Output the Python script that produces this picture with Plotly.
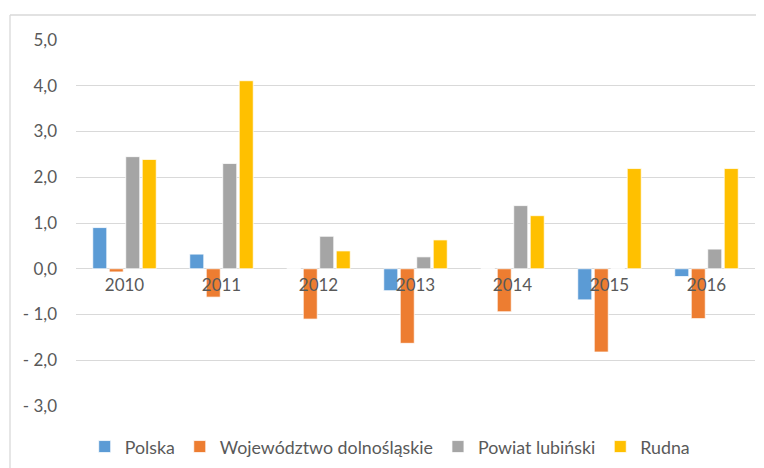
import plotly.graph_objects as go

years = ["2010", "2011", "2012", "2013", "2014", "2015", "2016"]
polska = [0.90, 0.32, 0.0, -0.48, 0.0, -0.68, -0.17]
dolnoslaskie = [-0.07, -0.62, -1.10, -1.63, -0.94, -1.82, -1.09]
lubinski = [2.45, 2.30, 0.71, 0.26, 1.38, 0.0, 0.43]
rudna = [2.39, 4.11, 0.39, 0.63, 1.16, 2.19, 2.19]

series_names = ["Polska", "Województwo dolnośląskie", "Powiat lubiński", "Rudna"]
colors = ["#5B9BD5", "#ED7D31", "#A5A5A5", "#FFC000"]
y_ticks = [-3, -2, -1, 0, 1, 2, 3, 4, 5]
y_tick_text = ["- 3,0", "- 2,0", "- 1,0", "0,0", "1,0", "2,0", "3,0", "4,0", "5,0"]

fig = go.Figure()
for name, vals, col in zip(series_names, [polska, dolnoslaskie, lubinski, rudna], colors):
    fig.add_trace(go.Bar(x=years, y=vals, name=name,
                         marker=dict(color=col, line=dict(color="white", width=0.75))))

font_fam = "Lato, 'Open Sans', sans-serif"
ymin, ymax = -3, 5
# page body has an 8px default margin; margins compensate for it
fig.update_layout(
    width=764, height=468,
    margin=dict(l=68, r=17, t=32, b=70, autoexpand=False),
    paper_bgcolor="white", plot_bgcolor="white",
    barmode="group", bargap=0.32, bargroupgap=0.15,
    font=dict(family=font_fam, color="#595959"),
    showlegend=True,
    legend=dict(orientation="h", x=0.462, xanchor="center", y=-0.112, yanchor="middle",
                font=dict(size=17.8, color="#595959"), itemwidth=30,
                traceorder="normal"),
    xaxis=dict(anchor="free", position=(0 - ymin) / (ymax - ymin),
               showline=False, ticks="", showgrid=False, automargin=False,
               tickfont=dict(size=17, color="#595959"), ticklabelstandoff=4),
    yaxis=dict(range=[ymin, ymax], tickvals=y_ticks, ticktext=y_tick_text,
               showgrid=True, gridcolor="#D9D9D9", gridwidth=1.3, automargin=False,
               zeroline=True, zerolinecolor="#D9D9D9", zerolinewidth=1.3,
               showline=False, ticks="", tickfont=dict(size=17, color="#595959"),
               ticklabelstandoff=18),
    shapes=[
        dict(type="line", xref="paper", yref="paper",
             x0=(10 - 76) / 679, x1=(770 - 76) / 679,
             y0=(406 - 15) / 366, y1=(406 - 15) / 366,
             line=dict(color="#D9D9D9", width=1.3)),
        dict(type="line", xref="paper", yref="paper",
             x0=(10 - 76) / 679, x1=(10 - 76) / 679,
             y0=(406 - 15) / 366, y1=(406 - 480) / 366,
             line=dict(color="#D9D9D9", width=1.3)),
    ],
)

fig.write_html("out.html")
